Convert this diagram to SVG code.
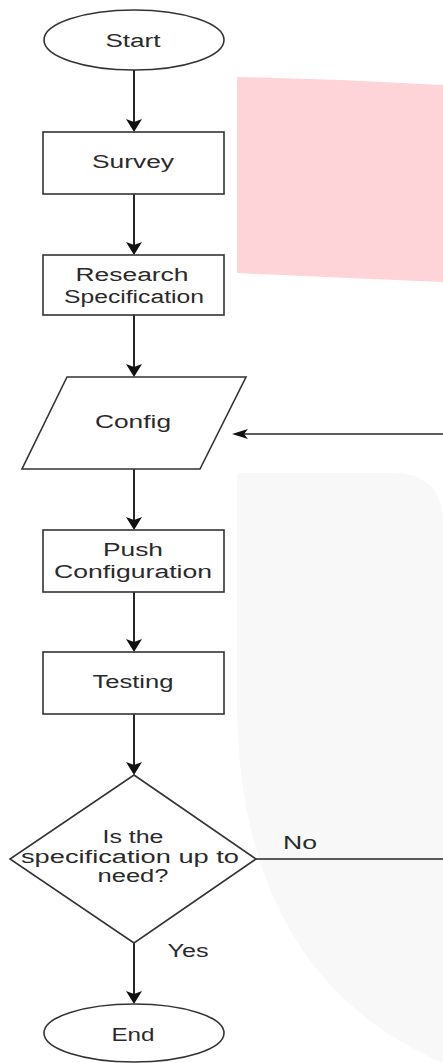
<svg xmlns="http://www.w3.org/2000/svg" width="443" height="1063" viewBox="0 0 443 1063">
<style>
.shape{fill:#ffffff;stroke:#333333;stroke-width:1.6}
.lbl{font-family:"Liberation Sans",Arial,sans-serif;font-size:18px;fill:#2a2a2a;text-anchor:middle}
.edge{fill:none;stroke:#262626;stroke-width:2}
.head{fill:#111111;stroke:none}
</style>
<g id="background">
<path d="M237,77 Q340,79 443,85 L443,282 Q340,278 237,273 Z" fill="#FFD4D9"/>
<path d="M237,477 Q237,473 241,473 L393,473 Q443,473 443,523 L443,1063 C320,1010 237,900 237,700 Z" fill="#F8F8F8"/>
</g>
<g id="connectors">
<line class="edge" x1="134" y1="70" x2="134" y2="124"/>
<path class="head" d="M134,132 L126,119 L134,122 L142,119 Z"/>
<line class="edge" x1="134" y1="194" x2="134" y2="247"/>
<path class="head" d="M134,255 L126,242 L134,245 L142,242 Z"/>
<line class="edge" x1="134" y1="315" x2="134" y2="369"/>
<path class="head" d="M134,377 L126,364 L134,367 L142,364 Z"/>
<line class="edge" x1="134" y1="469" x2="134" y2="522"/>
<path class="head" d="M134,530 L126,517 L134,520 L142,517 Z"/>
<line class="edge" x1="134" y1="592" x2="134" y2="644"/>
<path class="head" d="M134,652 L126,639 L134,642 L142,639 Z"/>
<line class="edge" x1="134" y1="714" x2="134" y2="767"/>
<path class="head" d="M134,775 L126,762 L134,765 L142,762 Z"/>
<line class="edge" x1="134" y1="943" x2="134" y2="996"/>
<path class="head" d="M134,1004 L126,991 L134,994 L142,991 Z"/>
<line class="edge" x1="256" y1="859" x2="443" y2="859" style="stroke-width:1.6"/>
<line class="edge" x1="443" y1="434" x2="242" y2="434" style="stroke-width:1.6"/>
<path class="head" d="M232,434 L248,429 L244,434 L248,439 Z"/>
<text class="lbl" x="300" y="849" textLength="34" lengthAdjust="spacingAndGlyphs">No</text>
<text class="lbl" x="188" y="957" textLength="41" lengthAdjust="spacingAndGlyphs">Yes</text>
</g>
<g id="start">
<ellipse class="shape" cx="134" cy="40" rx="90" ry="30"/>
<text class="lbl" x="133" y="47" textLength="55" lengthAdjust="spacingAndGlyphs">Start</text>
</g>
<g id="survey">
<rect class="shape" x="43" y="132" width="181" height="62"/>
<text class="lbl" x="133" y="168" textLength="82" lengthAdjust="spacingAndGlyphs">Survey</text>
</g>
<g id="research">
<rect class="shape" x="43" y="255" width="181" height="60"/>
<text class="lbl" x="132" y="281" textLength="113" lengthAdjust="spacingAndGlyphs">Research</text>
<text class="lbl" x="134" y="303" textLength="140" lengthAdjust="spacingAndGlyphs">Specification</text>
</g>
<g id="config">
<polygon class="shape" points="67,377 246,377 200,469 22,469"/>
<text class="lbl" x="133" y="428" textLength="76" lengthAdjust="spacingAndGlyphs">Config</text>
</g>
<g id="push">
<rect class="shape" x="43" y="530" width="181" height="62"/>
<text class="lbl" x="133" y="556" textLength="60" lengthAdjust="spacingAndGlyphs">Push</text>
<text class="lbl" x="133" y="578" textLength="158" lengthAdjust="spacingAndGlyphs">Configuration</text>
</g>
<g id="testing">
<rect class="shape" x="43" y="652" width="181" height="62"/>
<text class="lbl" x="133" y="688" textLength="81" lengthAdjust="spacingAndGlyphs">Testing</text>
</g>
<g id="decision">
<polygon class="shape" points="134,775 256,859 134,943 10,859"/>
<text class="lbl" x="133" y="843" textLength="61" lengthAdjust="spacingAndGlyphs">Is the</text>
<text class="lbl" x="130" y="863" textLength="218" lengthAdjust="spacingAndGlyphs">specification up to</text>
<text class="lbl" x="133" y="882" textLength="71" lengthAdjust="spacingAndGlyphs">need?</text>
</g>
<g id="end">
<ellipse class="shape" cx="134" cy="1033" rx="90" ry="29"/>
<text class="lbl" x="133" y="1041" textLength="43" lengthAdjust="spacingAndGlyphs">End</text>
</g>
</svg>
